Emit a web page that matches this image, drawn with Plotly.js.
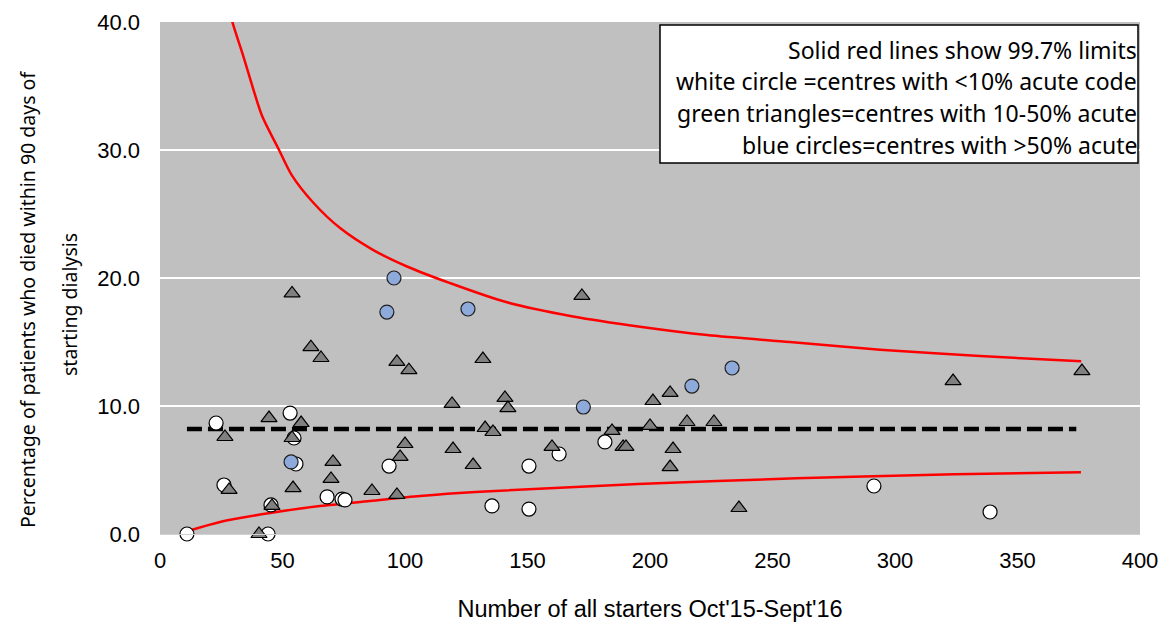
<!DOCTYPE html>
<html>
<head>
<meta charset="utf-8">
<script src="https://cdn.plot.ly/plotly-3.0.1.min.js"></script>
<style>html,body{margin:0;padding:0;background:#fff;}#chart{width:1176px;height:634px;}</style>
</head>
<body>
<div id="chart"></div>
<script>
// White circles: centres with <10% acute code
const whiteX = [11.0, 22.9, 26.1, 44.1, 45.3, 53.1, 54.7, 55.5, 68.2, 74.3, 75.5, 93.5, 135.5, 150.6, 150.6, 162.9, 181.6, 291.4, 338.8];
const whiteY = [0.0, 8.67, 3.83, 0.0, 2.27, 9.45, 7.5, 5.47, 2.9, 2.73, 2.66, 5.31, 2.19, 5.31, 1.95, 6.25, 7.19, 3.75, 1.72];

// Triangles: centres with 10-50% acute
const triX = [26.5, 28.2, 40.4, 44.5, 45.7, 53.9, 53.9, 54.3, 57.6, 61.6, 65.7, 69.8, 70.6, 86.5, 96.7, 96.7, 98.0, 100.0, 101.6, 119.2, 119.6, 127.8, 131.8, 132.7, 135.9, 140.8, 142.0, 160.0, 172.2, 184.5, 189.0, 190.2, 200.0, 201.2, 208.2, 208.2, 209.4, 215.1, 226.1, 236.3, 323.7, 376.3];
const triY = [7.58, 3.44, 0.0, 9.06, 2.19, 18.8, 7.5, 3.59, 8.67, 14.6, 13.75, 4.3, 5.63, 3.36, 13.44, 3.05, 6.02, 7.03, 12.8, 10.16, 6.64, 5.39, 13.67, 8.28, 7.97, 10.63, 9.84, 6.8, 18.6, 8.05, 6.8, 6.8, 8.44, 10.39, 11.02, 5.23, 6.64, 8.75, 8.75, 2.03, 11.95, 12.73];

// Blue circles: centres with >50% acute
const blueX = [53.5, 92.6, 95.5, 125.7, 172.8, 217.1, 233.5];
const blueY = [5.63, 17.34, 20.0, 17.58, 9.92, 11.56, 12.97];

// Mean line
const meanX = [11, 374];
const meanY = [8.2, 8.2];

// 99.7% limits
const upX = [28.5, 29.4, 33.9, 38.0, 41.6, 48.6, 53.9, 62.5, 73.5, 86.9, 100.8, 118.4, 141.6, 168.6, 195.9, 223.3, 257.1, 293.9, 334.7, 376];
const upY = [41, 40.1, 37.4, 34.8, 32.7, 30.0, 28.0, 25.9, 23.9, 22.2, 20.9, 19.6, 18.1, 17.0, 16.2, 15.55, 15.0, 14.4, 13.9, 13.5];
const loX = [11.4, 24.5, 44.9, 65.3, 85.7, 106.1, 130.6, 195.1, 259.7, 324.3, 375.9];
const loY = [0.23, 0.94, 1.64, 2.19, 2.58, 2.97, 3.30, 3.9, 4.35, 4.66, 4.82];

const xTicks = [0, 50, 100, 150, 200, 250, 300, 350, 400];
const yTicks = [0, 10, 20, 30, 40];

const legendLines = [
  'Solid red lines show 99.7% limits',
  'white circle =centres with <10% acute code',
  'green triangles=centres with 10-50% acute',
  'blue circles=centres with >50% acute'
];
const yTitleLines = ['Percentage of patients who died within 90 days of', 'starting dialysis'];

const traces = [
  {x: upX, y: upY, mode: 'lines', line: {color: '#ff0000', width: 2.5, shape: 'spline', smoothing: 0.8}, hoverinfo: 'skip'},
  {x: loX, y: loY, mode: 'lines', line: {color: '#ff0000', width: 2.5, shape: 'spline', smoothing: 0.8}, hoverinfo: 'skip'},
  {x: meanX, y: meanY, mode: 'lines', line: {color: '#000000', width: 4.5, dash: '15px,6px'}, hoverinfo: 'skip'},
  {x: whiteX, y: whiteY, mode: 'markers', cliponaxis: false,
   marker: {symbol: 'circle', size: 14, color: '#ffffff', line: {color: '#000000', width: 1.2}}},
  {x: triX, y: triY, mode: 'markers', cliponaxis: false,
   marker: {symbol: 'triangle-up', size: 14, color: '#808080', line: {color: '#000000', width: 1.2}}},
  {x: blueX, y: blueY, mode: 'markers', cliponaxis: false,
   marker: {symbol: 'circle', size: 14, color: '#8eaadb', line: {color: '#1f1f1f', width: 1.2}}}
];

const plotLeft = 160, plotW = 980, plotTop = 22, plotH = 512;
const lineYpx = [50, 81, 113, 145]; // centres of legend text lines in px from top
const annotations = legendLines.map((t, i) => ({
  text: t, xref: 'paper', yref: 'paper', x: 0.998, xshift: 1, xanchor: 'right',
  y: (plotTop + plotH - lineYpx[i]) / plotH, yanchor: 'middle', showarrow: false, align: 'right',
  font: {family: 'Noto Sans, Open Sans, sans-serif', size: 23, color: '#000000'}
}));
const yTitleXpx = [27, 69];
const yTitleYpx = [300, 305];
yTitleLines.forEach((t, i) => annotations.push({
  text: t, xref: 'paper', yref: 'paper', textangle: -90,
  x: (yTitleXpx[i] - plotLeft) / plotW, xanchor: 'center',
  y: (plotTop + plotH - yTitleYpx[i]) / plotH, yanchor: 'middle', showarrow: false,
  font: {family: 'Noto Sans, Open Sans, sans-serif', size: 19.5, color: '#000000'}
}));

const layout = {
  width: 1176, height: 634,
  margin: {l: 160, r: 36, t: 22, b: 100},
  paper_bgcolor: '#ffffff',
  plot_bgcolor: '#c0c0c0',
  showlegend: false,
  font: {family: 'Liberation Sans, Arial, sans-serif', size: 22, color: '#000000'},
  xaxis: {
    range: [0, 400], tickvals: xTicks, ticktext: xTicks.map(String),
    showgrid: false, zeroline: false, showline: true, linecolor: '#d0d0d0', linewidth: 1,
    ticks: '', ticklabelstandoff: 7,
    tickfont: {family: 'Liberation Sans, Arial, sans-serif', size: 22, color: '#000000'},
    title: {text: "Number of all starters Oct'15-Sept'16", standoff: 28,
            font: {family: 'Liberation Sans, Arial, sans-serif', size: 23.5, color: '#000000'}}
  },
  yaxis: {
    range: [0, 40], tickvals: yTicks, ticktext: yTicks.map(v => v.toFixed(1)),
    showgrid: true, gridcolor: '#ffffff', gridwidth: 2, zeroline: false, showline: false,
    ticks: '', ticklabelstandoff: 19,
    tickfont: {family: 'Liberation Sans, Arial, sans-serif', size: 22, color: '#000000'}
  },
  shapes: [
    {type: 'rect', xref: 'paper', yref: 'paper', layer: 'above',
     x0: (660 - plotLeft) / plotW, x1: (1138 - plotLeft) / plotW,
     y0: (plotTop + plotH - 163) / plotH, y1: (plotTop + plotH - 25) / plotH,
     fillcolor: '#ffffff', line: {color: '#000000', width: 1.5}}
  ],
  annotations: annotations
};

Plotly.newPlot('chart', traces, layout, {displayModeBar: false, staticPlot: true});
</script>
</body>
</html>
